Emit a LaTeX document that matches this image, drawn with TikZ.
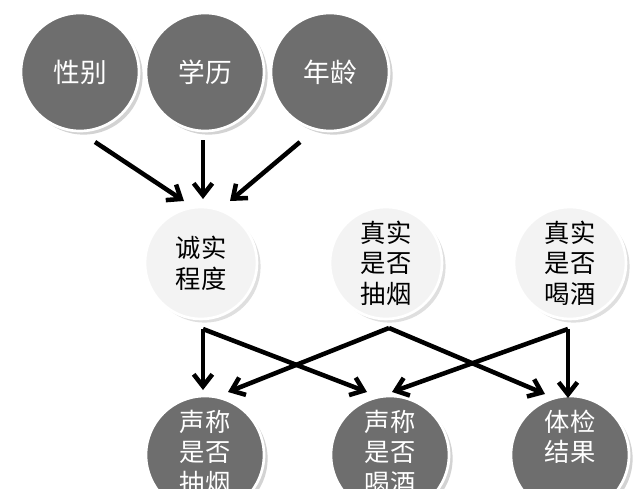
\documentclass[tikz,border=0pt]{standalone}
\usepackage{fontspec}
\setmainfont{Noto Sans CJK SC}
\usetikzlibrary{shadows, arrows.meta}
\definecolor{darkball}{HTML}{6E6E6E}
\definecolor{lightball}{HTML}{F3F3F3}

\begin{document}
\begin{tikzpicture}[x=0.75pt, y=-0.75pt,
    darknode/.style={circle, fill=darkball, draw=white, line width=2pt, minimum size=118*0.75pt, text=white, font=\fontsize{20}{24}\selectfont, align=center, drop shadow={opacity=0.35}},
    lightnode/.style={circle, fill=lightball, draw=white, line width=2pt, minimum size=112*0.75pt, font=\fontsize{19}{23}\selectfont, align=center, drop shadow={opacity=0.25}},
    arrow/.style={line width=3.4pt, -{Straight Barb[length=9pt, width=14pt]}}]

    \useasboundingbox (0,0) rectangle (640,489);

    % top row
    \node[darknode] (sex) at (80, 72) {性别};
    \node[darknode] (edu) at (205, 72) {学历};
    \node[darknode] (age) at (330, 72) {年龄};

    % middle row
    \node[lightnode] (honest) at (201, 263) {诚实\\程度};
    \node[lightnode] (smoke) at (386, 263) {真实\\是否\\抽烟};
    \node[lightnode] (drink) at (570, 263) {真实\\是否\\喝酒};

    % bottom row
    \node[darknode, minimum size=118*0.75pt] (saysmoke) at (205, 455) {};
    \node[darknode, minimum size=118*0.75pt] (saydrink) at (390, 455) {};
    \node[darknode, minimum size=118*0.75pt] (check) at (570, 455) {};
    \node[text=white, font=\fontsize{19}{23}\selectfont, align=center, anchor=north] (tsmoke) at (205, 405) {声称\\是否\\抽烟};
    \node[text=white, font=\fontsize{19}{23}\selectfont, align=center, anchor=north] (tdrink) at (390, 405) {声称\\是否\\喝酒};
    \node[text=white, font=\fontsize{19}{23}\selectfont, align=center, anchor=north] (tcheck) at (570, 405) {体检\\结果};

    % arrow ends
    \coordinate (s1) at (95, 142);
    \coordinate (s2) at (203, 140);
    \coordinate (s3) at (300, 142);
    \coordinate (e1) at (184, 201);
    \coordinate (e2) at (203, 199);
    \coordinate (e3) at (230, 201);
    \coordinate (a) at (203, 329);
    \coordinate (b) at (389, 328);
    \coordinate (c) at (568, 329);
    \coordinate (p1) at (203, 390);
    \coordinate (p2) at (228, 392);
    \coordinate (q1) at (367, 392);
    \coordinate (q2) at (392, 392);
    \coordinate (r1) at (545, 394);
    \coordinate (r2) at (568, 398);

    \draw[arrow] (s1) -- (e1);
    \draw[arrow] (s2) -- (e2);
    \draw[arrow] (s3) -- (e3);

    \draw[arrow] (a) -- (p1);
    \draw[arrow] (a) -- (q1);
    \draw[arrow] (b) -- (p2);
    \draw[arrow] (b) -- (r1);
    \draw[arrow] (c) -- (q2);
    \draw[arrow] (c) -- (r2);

\end{tikzpicture}
\end{document}
